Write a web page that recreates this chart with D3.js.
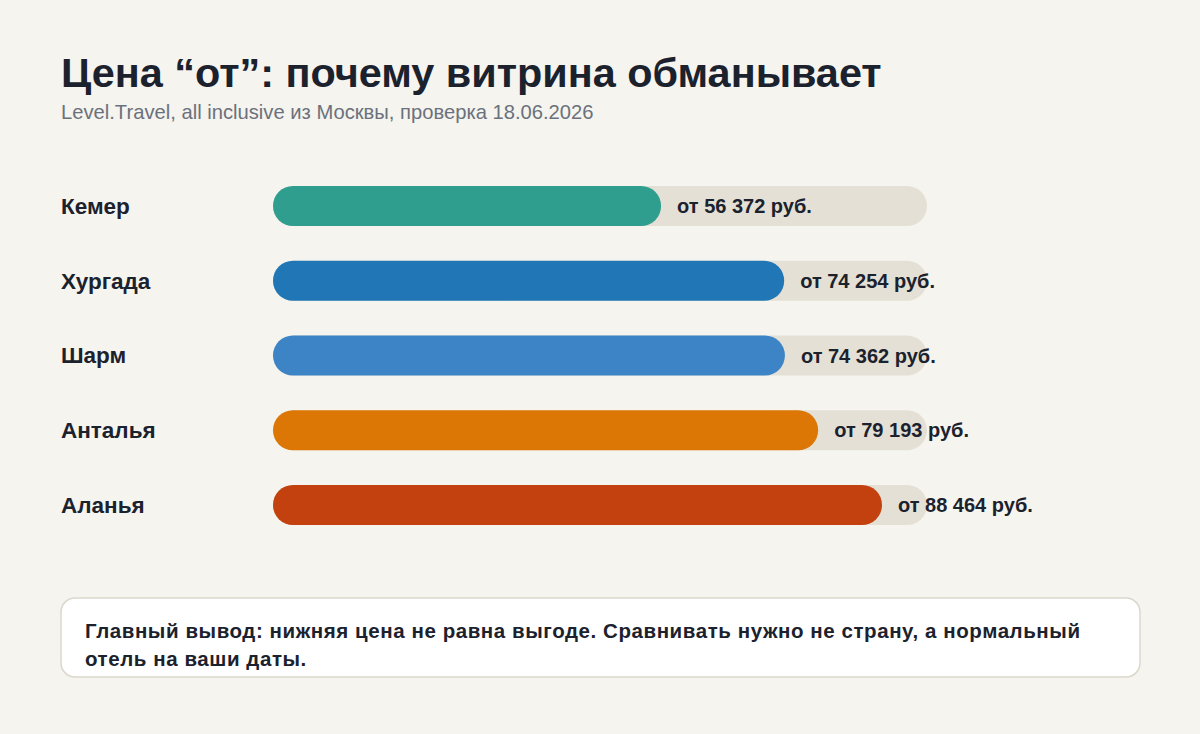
<!DOCTYPE html>
<html>
<head>
<meta charset="utf-8">
<script src="https://cdn.jsdelivr.net/npm/d3@7"></script>
<style>
  body { margin: 0; background: #f5f4ef; }
  svg { display: block; }
</style>
</head>
<body>
<script>
// Data
var cities = ["Кемер", "Хургада", "Шарм", "Анталья", "Аланья"];
var prices = [56372, 74254, 74362, 79193, 88464];
var colors = ["#2f9e8f", "#2177b5", "#3d84c6", "#dc7706", "#c2410e"];

var title = "Цена “от”: почему витрина обманывает";
var subtitle = "Level.Travel, all inclusive из Москвы, проверка 18.06.2026";
var noteLines = ["Главный вывод: нижняя цена не равна выгоде. Сравнивать нужно не страну, а нормальный",
                 "отель на ваши даты."];

var w = 1200, h = 734;
var barLeft = 273, barRight = 927;
var barH = 40;

var svg = d3.select("body").append("svg")
    .attr("width", w)
    .attr("height", h);

svg.append("rect")
    .attr("width", w).attr("height", h)
    .attr("fill", "#f5f4ef");

// Title
svg.append("text")
    .attr("x", 61).attr("y", 87)
    .style("font", "bold 41.4px 'Liberation Sans', Arial, sans-serif")
    .attr("fill", "#1b222d")
    .text(title);

svg.append("text")
    .attr("x", 61).attr("y", 119)
    .style("font", "20.2px 'Liberation Sans', Arial, sans-serif")
    .attr("fill", "#6b717c")
    .text(subtitle);

// Scales
var x = d3.scaleLinear()
    .domain([0, 95000])
    .range([barLeft, barRight]);

var y = d3.scalePoint()
    .domain(cities)
    .range([206, 505]);

var fmt = function(v) { return "от " + d3.format(",")(v).replace(/,/g, " ") + " руб."; };

var rows = svg.selectAll(".row")
    .data(cities)
    .enter().append("g")
    .attr("class", "row")
    .attr("transform", function(d) { return "translate(0," + y(d) + ")"; });

// Track
rows.append("rect")
    .attr("x", x(0))
    .attr("y", -barH / 2)
    .attr("width", x(95000) - x(0))
    .attr("height", barH)
    .attr("rx", barH / 2)
    .attr("fill", "#e4e0d5");

// Bar
rows.append("rect")
    .attr("x", x(0))
    .attr("y", -barH / 2)
    .attr("width", function(d, i) { return x(prices[i]) - x(0); })
    .attr("height", barH)
    .attr("rx", barH / 2)
    .attr("fill", function(d, i) { return colors[i]; });

// City label
rows.append("text")
    .attr("x", 61)
    .attr("dy", "0.35em")
    .style("font", "bold 22.5px 'Liberation Sans', Arial, sans-serif")
    .attr("fill", "#1b222d")
    .text(function(d) { return d; });

// Value label
rows.append("text")
    .attr("x", function(d, i) { return x(prices[i]) + 16; })
    .attr("dy", "0.35em")
    .style("font", "bold 20px 'Liberation Sans', Arial, sans-serif")
    .attr("fill", "#1b222d")
    .text(function(d, i) { return fmt(prices[i]); });

// Note box
svg.append("rect")
    .attr("x", 61).attr("y", 598)
    .attr("width", 1079).attr("height", 79)
    .attr("rx", 14)
    .attr("fill", "#ffffff")
    .attr("stroke", "#dcd7cb")
    .attr("stroke-width", 1.5);

var notes = svg.selectAll(".note")
    .data(noteLines)
    .enter().append("text")
    .attr("class", "note")
    .attr("x", 85)
    .attr("y", function(d, i) { return 638 + i * 28; })
    .style("font", "bold 20.5px 'Liberation Sans', Arial, sans-serif")
    .attr("fill", "#1b222d")
    .text(function(d) { return d; });

// widen the spacing so the first line spans like the original (about 995px)
var first = notes.node();
var natural = first.getComputedTextLength();
var spacing = (995 - natural) / (noteLines[0].length - 1);
notes.style("letter-spacing", spacing + "px");
</script>
</body>
</html>
